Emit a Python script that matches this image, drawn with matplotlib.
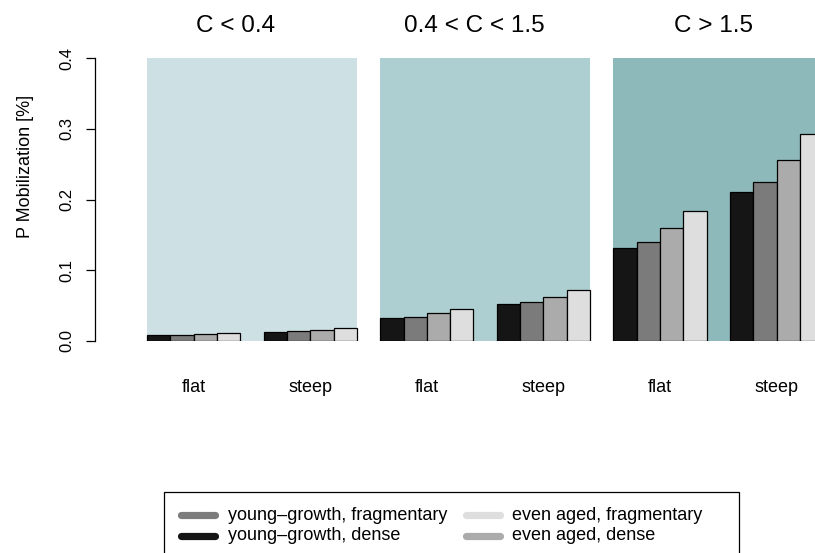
import matplotlib
matplotlib.use("Agg")
import matplotlib.pyplot as plt
from matplotlib.patches import Rectangle
from matplotlib.lines import Line2D
import matplotlib.transforms as mtransforms

plt.rcParams['font.family'] = ['Liberation Sans', 'DejaVu Sans']

panels = ["C < 0.4", "0.4 < C < 1.5", "C > 1.5"]
categories = ["flat", "steep"]
series = ["young\u2013growth, dense", "young\u2013growth, fragmentary",
          "even aged, dense", "even aged, fragmentary"]
# values per panel, per category (flat, steep)
yg_dense = [0.0080, 0.0133, 0.0325, 0.0520, 0.1315, 0.2100]
yg_frag = [0.0090, 0.0141, 0.0345, 0.0550, 0.1405, 0.2243]
ea_dense = [0.0105, 0.0160, 0.0396, 0.0628, 0.1603, 0.2558]
ea_frag = [0.0120, 0.0180, 0.0448, 0.0717, 0.1833, 0.2922]
yticks = [0.0, 0.1, 0.2, 0.3, 0.4]

bar_colors = ["#151515", "#7b7b7b", "#ababab", "#dedede"]
bg_colors = ["#cde0e3", "#aecfd1", "#8db9ba"]

W, H = 815, 553
fig = plt.figure(figsize=(W / 100, H / 100), dpi=100)

unit = 23.32
x0pix = 147
left_pix, right_pix = 95, 815
bot_pix, top_pix = 341, 58
ax = fig.add_axes([left_pix / W, 1 - bot_pix / H, (right_pix - left_pix) / W,
                   (bot_pix - top_pix) / H])
ax.set_xlim((left_pix - x0pix) / unit, (right_pix - x0pix) / unit)
ax.set_ylim(0, 0.4)

all_series = [yg_dense, yg_frag, ea_dense, ea_frag]
trans = mtransforms.blended_transform_factory(ax.transData, fig.transFigure)
title_x_pix = [236, 474, 713]
for p in range(3):
    ax.add_patch(Rectangle((10 * p, 0), 9, 0.4, facecolor=bg_colors[p],
                           edgecolor='none', zorder=0))
    for c in range(2):
        idx = 2 * p + c
        lefts = [10 * p + 5 * c + s for s in range(4)]
        heights = [all_series[s][idx] for s in range(4)]
        ax.bar(lefts, heights, width=1, align='edge', color=bar_colors,
               edgecolor='black', linewidth=0.9, zorder=2)
    fig.text(title_x_pix[p] / W, 1 - 31.5 / H, panels[p],
             ha='center', va='baseline', fontsize=17.5)
    for c in range(2):
        ax.text(10 * p + 5 * c + 2, 1 - 391.5 / H, categories[c], transform=trans,
                ha='center', va='baseline', fontsize=13)

for s in ['top', 'right', 'bottom']:
    ax.spines[s].set_visible(False)
ax.spines['left'].set_linewidth(0.9)
ax.set_xticks([])
ax.set_yticks(yticks)
ax.set_yticklabels([f"{t:.1f}" for t in yticks], rotation=90, va='center',
                   fontsize=12)
ax.tick_params(axis='y', length=6.5, width=0.9, pad=8.5)
fig.text(25 / W, 1 - 166 / H, "P Mobilization [%]", rotation=90,
         ha='center', va='center', fontsize=13)

# legend
lax = fig.add_axes([0, 0, 1, 1])
lax.set_xlim(0, W)
lax.set_ylim(H, 0)
lax.axis('off')
lax.add_patch(Rectangle((164, 492), 739 - 164, 80, facecolor='none',
                        edgecolor='black', linewidth=0.9, clip_on=False))
leg_items = [(1, 0), (0, 1), (3, 0), (2, 1)]  # (series index, row)
col_x = [177, 462]
text_x = [228, 512]
row_y = [515, 536]
for k, (si, row) in enumerate(leg_items):
    col = k // 2
    lax.add_line(Line2D([col_x[col] + 4, col_x[col] + 38], [row_y[row], row_y[row]],
                        color=bar_colors[si], linewidth=5.2,
                        solid_capstyle='round'))
    lax.text(text_x[col], row_y[row], series[si], ha='left', va='center',
             fontsize=13)

fig.savefig("out.png", dpi=100)
